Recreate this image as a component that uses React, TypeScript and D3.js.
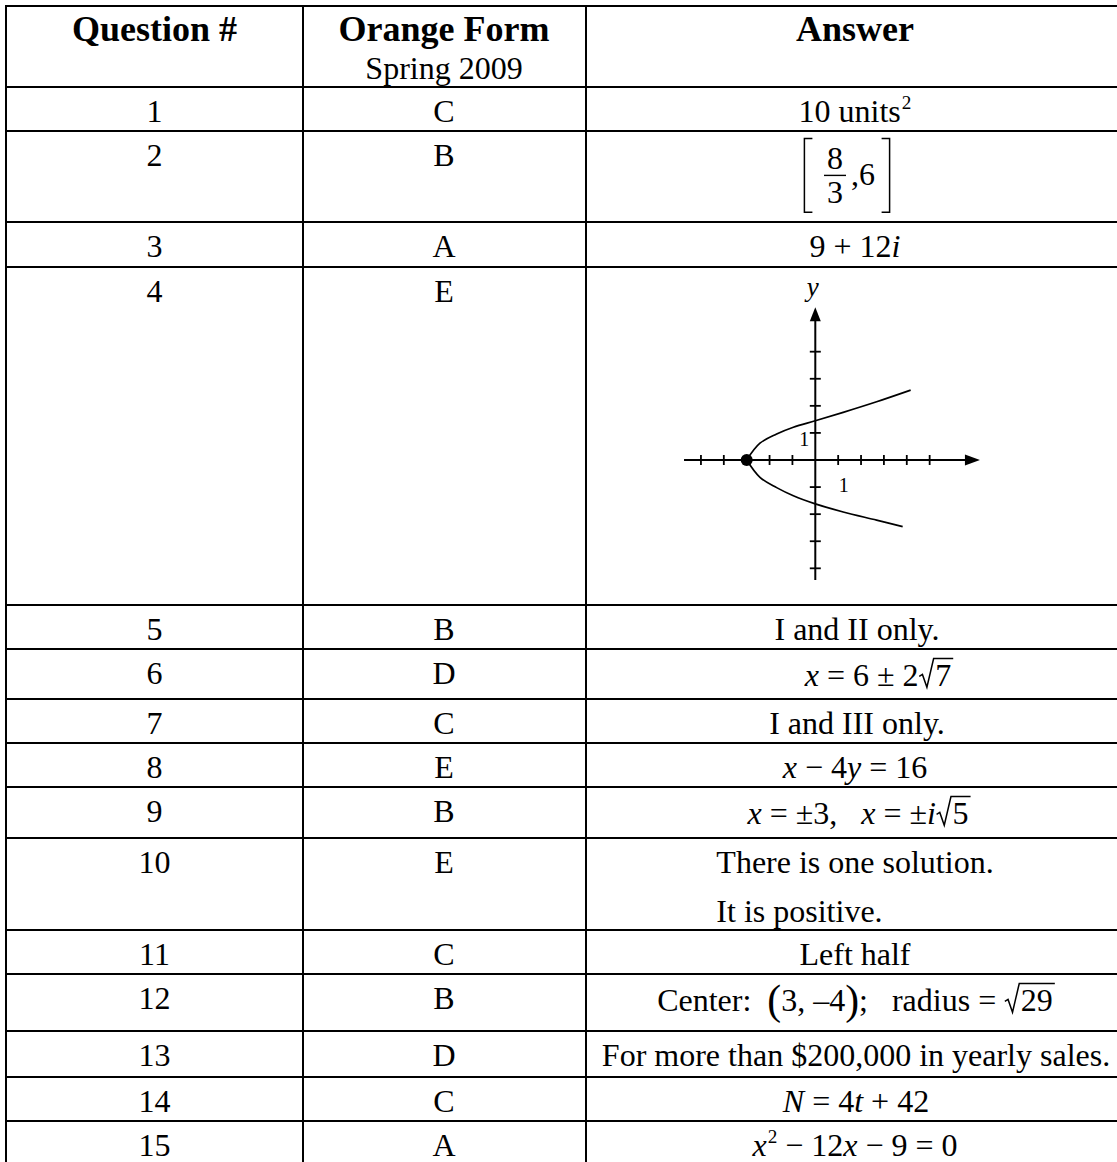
import React, { useEffect, useRef } from "react";
import * as d3 from "d3";

// ---------- content ----------
const headerLabels = ["Question #", "Orange Form", "Answer"];
const formSubtitle = "Spring 2009";
const questionNumbers = ["1", "2", "3", "4", "5", "6", "7", "8", "9", "10", "11", "12", "13", "14", "15"];
const orangeFormKeys = ["C", "B", "A", "E", "B", "D", "C", "E", "B", "E", "C", "B", "D", "C", "A"];
// markup: *italic*  ^superscript^  √{radicand}  \frac{n}{d}  {(} {)} {[} {]} big delimiters, GRAPH = sketch
const answerTexts = [
  "10 units^2^",
  "{[}\\frac{8}{3},6{]}",
  "9 + 12*i*",
  "GRAPH",
  "I and II only.",
  "*x* = 6 ± 2√{7}",
  "I and III only.",
  "*x* − 4*y* = 16",
  "*x* = ±3,   *x* = ±*i*√{5}",
  "There is one solution.\nIt is positive.",
  "Left half",
  "Center:  {(}3, –4{)};   radius = √{29}",
  "For more than $200,000 in yearly sales.",
  "*N* = 4*t* + 42",
  "*x*^2^ − 12*x* − 9 = 0",
];

// sketch of question 4 (in graph units)
const graphXTicks = [-5, -4, -3, -2, -1, 1, 2, 3, 4, 5];
const graphYTicks = [-4, -3, -2, -1, 1, 2, 3, 4];
const graphXExtent = [-5.74, 7.2];
const graphYExtent = [-4.43, 5.64];
const vertexPoint = [-3, 0];
const upperBranchX = [-3, -2.42, -1.69, -0.96, 0, 1.22, 2.68, 4.17];
const upperBranchY = [0, 0.62, 0.96, 1.21, 1.45, 1.76, 2.15, 2.58];
const lowerBranchX = [-3, -2.42, -1.69, -0.96, 0, 1.22, 2.68, 3.82];
const lowerBranchY = [0, -0.64, -1.02, -1.32, -1.62, -1.92, -2.22, -2.46];
const axisLabel = "y";
const unitLabel = "1";

// ---------- layout ----------
const W = 1117;
const H = 1162;
const FONT = "'Liberation Serif', 'Times New Roman', Times, serif";
const BODY = 32;
const HEAD = 36;
const colEdges = [6, 303, 586, 1123];
const rowEdges = [6, 87, 131, 222, 267, 605, 649, 699, 743, 787, 838, 930, 974, 1031, 1077, 1121, 1166];
const colCenters = [154.5, 444, 855];
const answerShift = [0, -8, 0, 0, 2, 24, 2, 0, 4, 0, 0, 1, 1, 1, 0];

type Tok =
  | { k: "t"; s: string; it: boolean }
  | { k: "sup"; s: string }
  | { k: "sqrt"; s: string }
  | { k: "frac"; n: string; d: string }
  | { k: "delim"; s: string };

function parse(src: string): Tok[] {
  const re = /\*([^*]+)\*|\^([^^]+)\^|√\{([^}]*)\}|\\frac\{([^}]*)\}\{([^}]*)\}|\{([()\[\]])\}|([^*^√\\{]+)/g;
  const out: Tok[] = [];
  let m: RegExpExecArray | null;
  while ((m = re.exec(src))) {
    if (m[1] !== undefined) out.push({ k: "t", s: m[1], it: true });
    else if (m[2] !== undefined) out.push({ k: "sup", s: m[2] });
    else if (m[3] !== undefined) out.push({ k: "sqrt", s: m[3] });
    else if (m[4] !== undefined) out.push({ k: "frac", n: m[4], d: m[5] });
    else if (m[6] !== undefined) out.push({ k: "delim", s: m[6] });
    else if (m[7] !== undefined) out.push({ k: "t", s: m[7], it: false });
  }
  return out;
}

export default function App() {
  const ref = useRef<SVGSVGElement | null>(null);

  useEffect(() => {
    const svg = d3.select(ref.current);
    svg.selectAll("*").remove();
    const g = svg.append("g");

    const measure = (s: string, size: number, italic = false, bold = false) => {
      const t = g
        .append("text")
        .attr("font-family", FONT)
        .attr("font-size", size)
        .attr("font-style", italic ? "italic" : "normal")
        .attr("font-weight", bold ? "bold" : "normal")
        .style("white-space", "pre")
        .text(s);
      const w = (t.node() as SVGTextElement).getComputedTextLength();
      t.remove();
      return w;
    };

    const text = (
      s: string,
      x: number,
      y: number,
      size: number,
      opts: { italic?: boolean; bold?: boolean; anchor?: string } = {}
    ) =>
      g
        .append("text")
        .attr("x", x)
        .attr("y", y)
        .attr("font-family", FONT)
        .attr("font-size", size)
        .attr("font-style", opts.italic ? "italic" : "normal")
        .attr("font-weight", opts.bold ? "bold" : "normal")
        .attr("text-anchor", opts.anchor || "start")
        .attr("fill", "#000")
        .style("white-space", "pre")
        .text(s);

    // ---------- grid ----------
    rowEdges.forEach((y) => {
      g.append("line")
        .attr("x1", colEdges[0] - 1)
        .attr("x2", colEdges[3] + 1)
        .attr("y1", y)
        .attr("y2", y)
        .attr("stroke", "#000")
        .attr("stroke-width", 2);
    });
    colEdges.forEach((x) => {
      g.append("line")
        .attr("x1", x)
        .attr("x2", x)
        .attr("y1", rowEdges[0] - 1)
        .attr("y2", rowEdges[rowEdges.length - 1])
        .attr("stroke", "#000")
        .attr("stroke-width", 2);
    });

    // ---------- header ----------
    headerLabels.forEach((h, i) => {
      text(h, colCenters[i], rowEdges[0] + 35, HEAD, { bold: true, anchor: "middle" });
    });
    text(formSubtitle, colCenters[1], rowEdges[0] + 72.5, BODY, { anchor: "middle" });

    // ---------- rich math line ----------
    const fs = BODY;
    const tokWidth = (t: Tok, hasFrac: boolean) => {
      switch (t.k) {
        case "t":
          return measure(t.s, fs, t.it);
        case "sup":
          return measure(t.s, fs * 0.6) + 1;
        case "sqrt":
          return fs * 0.52 + measure(t.s, fs) + 2;
        case "frac":
          return Math.max(measure(t.n, fs), measure(t.d, fs)) + fs * 0.5;
        case "delim":
          return hasFrac ? fs * 0.55 : measure(t.s, fs * 1.3);
      }
      return 0;
    };

    const drawToks = (toks: Tok[], x0: number, baseline: number) => {
      const hasFrac = toks.some((t) => t.k === "frac");
      let x = x0;
      const axisY = baseline - fs * 0.3;
      toks.forEach((t) => {
        const w = tokWidth(t, hasFrac);
        if (t.k === "t") {
          text(t.s, x, baseline, fs, { italic: t.it });
        } else if (t.k === "sup") {
          text(t.s, x + 1, baseline - fs * 0.42, fs * 0.6);
        } else if (t.k === "sqrt") {
          const top = baseline - fs * 0.86;
          const radW = fs * 0.52;
          const p = d3.path();
          p.moveTo(x + fs * 0.02, baseline - fs * 0.3);
          p.lineTo(x + fs * 0.12, baseline - fs * 0.36);
          p.lineTo(x + fs * 0.26, baseline + fs * 0.04);
          p.lineTo(x + fs * 0.47, top);
          p.lineTo(x + w, top);
          g.append("path")
            .attr("d", p.toString())
            .attr("fill", "none")
            .attr("stroke", "#000")
            .attr("stroke-width", 1.5)
            .attr("stroke-linejoin", "miter");
          text(t.s, x + radW, baseline, fs);
        } else if (t.k === "frac") {
          const cx = x + w / 2;
          g.append("line")
            .attr("x1", x + 5)
            .attr("x2", x + w - 5)
            .attr("y1", axisY)
            .attr("y2", axisY)
            .attr("stroke", "#000")
            .attr("stroke-width", 1.4);
          text(t.n, cx, axisY - 6, fs, { anchor: "middle" });
          text(t.d, cx, axisY + fs * 0.66 + 6, fs, { anchor: "middle" });
        } else if (t.k === "delim") {
          if (hasFrac) {
            const top = axisY - fs * 1.15;
            const bot = axisY + fs * 1.15;
            const p = d3.path();
            if (t.s === "[") {
              p.moveTo(x + 11, top);
              p.lineTo(x + 3, top);
              p.lineTo(x + 3, bot);
              p.lineTo(x + 11, bot);
            } else {
              p.moveTo(x + w - 11, top);
              p.lineTo(x + w - 3, top);
              p.lineTo(x + w - 3, bot);
              p.lineTo(x + w - 11, bot);
            }
            g.append("path")
              .attr("d", p.toString())
              .attr("fill", "none")
              .attr("stroke", "#000")
              .attr("stroke-width", 1.5);
          } else {
            text(t.s, x, baseline + fs * 0.08, fs * 1.3);
          }
        }
        x += w;
      });
    };

    const lineWidth = (toks: Tok[]) => {
      const hasFrac = toks.some((t) => t.k === "frac");
      return d3.sum(toks, (t) => tokWidth(t, hasFrac));
    };

    // ---------- graph ----------
    const drawGraph = (rowTop: number, cx: number) => {
      const originX = cx - 39.7;
      const originY = rowTop + 193;
      const UX = 22.87;
      const UY = 27.08;
      const gx = d3
        .scaleLinear()
        .domain(graphXExtent)
        .range([originX + graphXExtent[0] * UX, originX + graphXExtent[1] * UX]);
      const gy = d3
        .scaleLinear()
        .domain(graphYExtent)
        .range([originY - graphYExtent[0] * UY, originY - graphYExtent[1] * UY]);
      const gg = g.append("g");
      const stroke = (sel: any, w: number) => sel.attr("stroke", "#000").attr("stroke-width", w).attr("fill", "none");

      // axes
      const xEnd = gx(graphXExtent[1]);
      stroke(gg.append("line").attr("x1", gx(graphXExtent[0])).attr("x2", xEnd - 12).attr("y1", gy(0)).attr("y2", gy(0)), 2);
      gg.append("path")
        .attr("d", `M${xEnd},${gy(0)}L${xEnd - 15},${gy(0) - 5.5}L${xEnd - 15},${gy(0) + 5.5}Z`)
        .attr("fill", "#000");
      const yTop = gy(graphYExtent[1]);
      stroke(gg.append("line").attr("x1", gx(0)).attr("x2", gx(0)).attr("y1", gy(graphYExtent[0])).attr("y2", yTop + 11), 2);
      gg.append("path")
        .attr("d", `M${gx(0)},${yTop}L${gx(0) - 5.5},${yTop + 14}L${gx(0) + 5.5},${yTop + 14}Z`)
        .attr("fill", "#000");

      graphXTicks.forEach((v) => {
        stroke(gg.append("line").attr("x1", gx(v)).attr("x2", gx(v)).attr("y1", gy(0) - 5).attr("y2", gy(0) + 5), 1.8);
      });
      graphYTicks.forEach((v) => {
        stroke(gg.append("line").attr("x1", gx(0) - 5.5).attr("x2", gx(0) + 5.5).attr("y1", gy(v)).attr("y2", gy(v)), 1.8);
      });

      // curve
      const line = d3
        .line<[number, number]>()
        .x((d) => gx(d[0]))
        .y((d) => gy(d[1]))
        .curve(d3.curveCatmullRom.alpha(0.5));
      const upper = upperBranchX.map((v, i) => [v, upperBranchY[i]] as [number, number]);
      const lower = lowerBranchX.map((v, i) => [v, lowerBranchY[i]] as [number, number]);
      stroke(gg.append("path").attr("d", line(upper)), 1.7);
      stroke(gg.append("path").attr("d", line(lower)), 1.7);

      gg.append("circle").attr("cx", gx(vertexPoint[0])).attr("cy", gy(vertexPoint[1])).attr("r", 6).attr("fill", "#000");

      // labels
      text(axisLabel, gx(0) - 2.6, yTop - 11, 27, { italic: true, anchor: "middle" });
      text(unitLabel, gx(0) - 11, gy(1) + 13, 20, { anchor: "middle" });
      text(unitLabel, gx(1) + 5.5, gy(0) + 31.5, 20, { anchor: "middle" });
    };

    // ---------- rows ----------
    questionNumbers.forEach((q, i) => {
      const top = rowEdges[i + 1];
      const base = top + 35;
      text(q, colCenters[0], base, BODY, { anchor: "middle" });
      text(orangeFormKeys[i], colCenters[1], base, BODY, { anchor: "middle" });

      const ans = answerTexts[i];
      const cx = colCenters[2] + answerShift[i];
      if (ans === "GRAPH") {
        drawGraph(top, cx);
        return;
      }
      const lines = ans.split("\n").map(parse);
      const hasFrac = lines.some((l) => l.some((t) => t.k === "frac"));
      const hasRoot = lines.some((l) => l.some((t) => t.k === "sqrt" || t.k === "delim"));
      const b0 = hasFrac ? top + 54 : hasRoot ? top + 37 : base;
      const widths = lines.map(lineWidth);
      if (lines.length === 1) {
        drawToks(lines[0], cx - widths[0] / 2, b0);
      } else {
        const left = cx - (d3.max(widths) as number) / 2;
        lines.forEach((l, j) => drawToks(l, left, b0 + j * 48.5));
      }
    });
  }, []);

  return (
    <svg
      ref={ref}
      width={W}
      height={H}
      viewBox={`0 0 ${W} ${H}`}
      style={{ position: "absolute", left: 0, top: 0, background: "#fff" }}
    />
  );
}
